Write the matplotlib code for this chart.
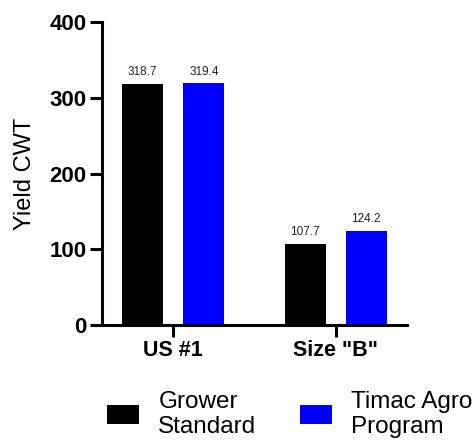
import matplotlib.pyplot as plt
import numpy as np

plt.rcParams['font.family'] = ['Liberation Sans', 'DejaVu Sans']

categories = ['US #1', 'Size "B"']
series_names = ['Grower\nStandard', 'Timac Agro\nProgram']
grower = [318.7, 107.7]
timac = [319.4, 124.2]
colors = ['#000000', '#0000ff']

fig = plt.figure(figsize=(4.77, 4.4), dpi=100)
ax = fig.add_axes([0.214, 0.261, 0.639, 0.689])

x = np.arange(len(categories))
w = 0.253
off = 0.188
b1 = ax.bar(x - off, grower, w, color=colors[0], label=series_names[0])
b2 = ax.bar(x + off, timac, w, color=colors[1], label=series_names[1])

for bars, vals in [(b1, grower), (b2, timac)]:
    for b, v in zip(bars, vals):
        ax.annotate(f'{v:.1f}', (b.get_x() + b.get_width() / 2, v),
                    xytext=(0, 4), textcoords='offset points',
                    ha='center', va='bottom', fontsize=8.5, color='#222222')

ax.set_xlim(-0.438, 1.438)
ax.set_ylim(0, 400)
ax.set_yticks([0, 100, 200, 300, 400])
ax.set_xticks(x)
ax.set_xticklabels(categories, fontsize=15.5, fontweight='bold')
for lab in ax.get_yticklabels():
    lab.set_fontsize(16)
    lab.set_fontweight('bold')
ax.set_ylabel('Yield CWT', fontsize=17, labelpad=10)

for s in ['top', 'right']:
    ax.spines[s].set_visible(False)
for s in ['left', 'bottom']:
    ax.spines[s].set_linewidth(2.2)
ax.tick_params(width=2.2, length=8.5, pad=2.5)

fig.legend(loc='center', bbox_to_anchor=(0.608, 0.058), ncol=2, frameon=False,
           fontsize=17.5, handlelength=1.3, handleheight=0.78, handletextpad=0.8,
           columnspacing=1.8, borderpad=0, labelspacing=0.2)

plt.savefig('out.png', dpi=100)
